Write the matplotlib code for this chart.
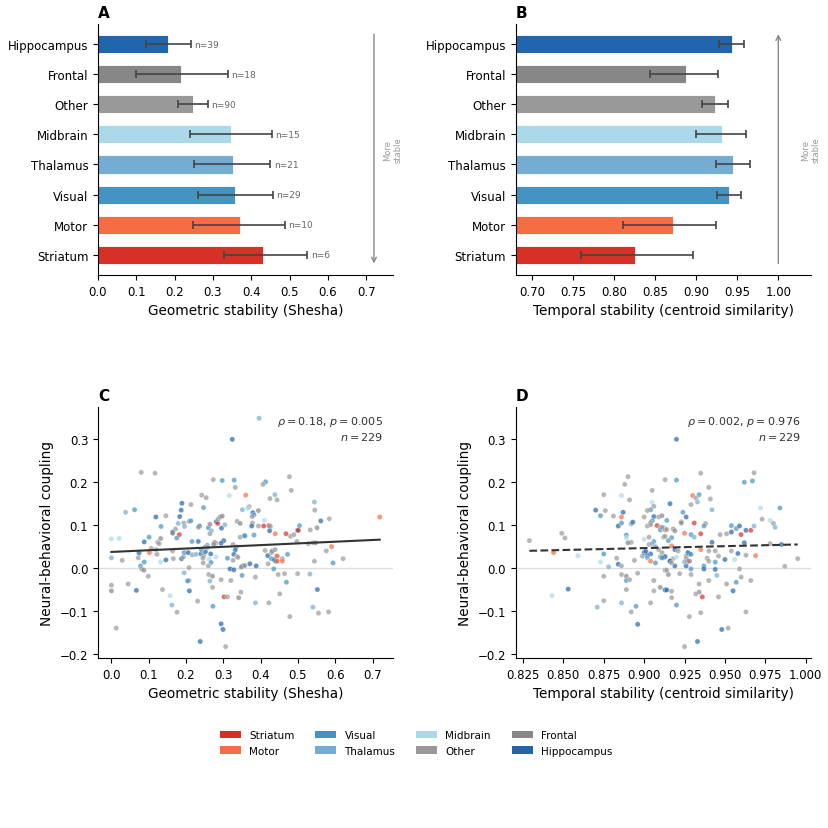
import numpy as np
import matplotlib
matplotlib.use("Agg")
import matplotlib.pyplot as plt
from matplotlib.patches import Patch

plt.rcParams["font.family"] = ["DejaVu Sans"]
plt.rcParams["font.size"] = 8.5

# regions, bottom to top of the bar panels
regions = ["Striatum", "Motor", "Visual", "Thalamus", "Midbrain", "Other", "Frontal", "Hippocampus"]
region_colors = {
    "Striatum": "#d73027",
    "Motor": "#f46d43",
    "Visual": "#4393c3",
    "Thalamus": "#74add1",
    "Midbrain": "#abd9e9",
    "Other": "#999999",
    "Frontal": "#878787",
    "Hippocampus": "#2166ac",
}
n_units = [6, 10, 29, 21, 15, 90, 18, 39]

shesha_mean = [0.430, 0.370, 0.357, 0.352, 0.347, 0.248, 0.217, 0.183]
shesha_lo = [0.330, 0.249, 0.261, 0.250, 0.239, 0.210, 0.100, 0.124]
shesha_hi = [0.546, 0.488, 0.457, 0.450, 0.454, 0.287, 0.339, 0.243]

temporal_mean = [0.825, 0.872, 0.940, 0.945, 0.931, 0.923, 0.888, 0.943]
temporal_lo = [0.759, 0.810, 0.925, 0.924, 0.900, 0.907, 0.843, 0.928]
temporal_hi = [0.896, 0.924, 0.954, 0.966, 0.961, 0.939, 0.926, 0.958]

# point codes for the scatter panels
code_region = {"R": "Striatum", "O": "Motor", "M": "Visual", "L": "Thalamus",
               "P": "Midbrain", "G": "Other", "F": "Frontal", "B": "Hippocampus"}

# panel C: geometric stability vs coupling
c_x = [0.324, 0.080, 0.117, 0.273, 0.297, 0.329, 0.332, 0.316, 0.360, 0.242,
       0.254, 0.189, 0.213, 0.187, 0.247, 0.351, 0.038, 0.062, 0.119, 0.146,
       0.183, 0.133, 0.179, 0.194, 0.196, 0.208, 0.213, 0.172, 0.164, 0.182,
       0.175, 0.164, 0.236, 0.233, 0.260, 0.264, 0.281, 0.285, 0.286, 0.291,
       0.297, 0.295, 0.304, 0.268, 0.264, 0.337, 0.345, 0.345, 0.356, 0.335,
       0.332, 0.328, 0.337, 0.326, 0.301, 0.294, 0.280, 0.276, 0.274, 0.257,
       0.251, 0.101, 0.088, 0.124, 0.132, 0.128, 0.000, 0.021, 0.074, 0.102,
       0.122, 0.120, 0.107, 0.000, 0.029, 0.072, 0.088, 0.078, 0.081, 0.087,
       0.099, 0.132, 0.146, 0.166, 0.164, 0.188, 0.193, 0.195, 0.206, 0.216,
       0.217, 0.227, 0.233, 0.240, 0.247, 0.252, 0.258, 0.266, 0.241, 0.245,
       0.261, 0.267, 0.280, 0.246, 0.260, 0.311, 0.326, 0.339, 0.350, 0.354,
       0.348, 0.318, 0.328, 0.208, 0.195, 0.208, 0.204, 0.209, 0.264, 0.271,
       0.261, 0.271, 0.294, 0.320, 0.350, 0.000, 0.000, 0.045, 0.067, 0.137,
       0.157, 0.162, 0.176, 0.231, 0.272, 0.302, 0.311, 0.341, 0.347, 0.294,
       0.299, 0.238, 0.306, 0.013,
       0.396, 0.477, 0.482, 0.413, 0.406, 0.438, 0.425, 0.444, 0.369, 0.365,
       0.394, 0.379, 0.382, 0.377, 0.544, 0.545, 0.584, 0.561, 0.378, 0.376,
       0.394, 0.410, 0.408, 0.422, 0.426, 0.424, 0.439, 0.468, 0.480, 0.489,
       0.499, 0.501, 0.504, 0.533, 0.551, 0.358, 0.382, 0.497, 0.528, 0.540,
       0.547, 0.590, 0.576, 0.594, 0.621, 0.544, 0.412, 0.419, 0.429, 0.431,
       0.439, 0.445, 0.458, 0.472, 0.429, 0.437, 0.441, 0.443, 0.445, 0.458,
       0.420, 0.371, 0.388, 0.358, 0.435, 0.386, 0.447, 0.464, 0.499, 0.469,
       0.532, 0.552, 0.451, 0.386, 0.422, 0.540, 0.555, 0.582, 0.478, 0.719]
c_y = [0.300, 0.223, 0.221, 0.206, 0.204, 0.205, 0.188, 0.169, 0.170, 0.170,
       0.164, 0.151, 0.148, 0.135, 0.141, 0.136, 0.130, 0.136, 0.119, 0.122,
       0.120, 0.097, 0.104, 0.105, 0.097, 0.109, 0.110, 0.091, 0.084, 0.078,
       0.070, 0.081, 0.098, 0.095, 0.094, 0.102, 0.108, 0.104, 0.114, 0.119,
       0.121, 0.093, 0.101, 0.087, 0.080, 0.109, 0.104, 0.072, 0.076, 0.049,
       0.042, 0.032, 0.027, 0.055, 0.064, 0.058, 0.058, 0.060, 0.055, 0.053,
       0.049, 0.072, 0.061, 0.060, 0.069, 0.057, 0.068, 0.069, 0.035, 0.036,
       0.032, 0.043, 0.046, 0.024, 0.018, 0.024, 0.014, 0.005, -0.002, -0.005,
       -0.019, 0.014, 0.019, 0.022, 0.040, 0.022, 0.026, 0.036, 0.036, 0.062,
       0.031, 0.032, 0.062, 0.033, 0.029, 0.038, 0.048, 0.033, 0.043, 0.023,
       0.021, 0.013, 0.026, 0.012, 0.005, 0.023, 0.018, 0.025, 0.004, 0.005,
       0.002, -0.002, -0.004, 0.001, -0.011, -0.029, -0.030, -0.053, -0.030, -0.045,
       -0.015, -0.019, -0.027, -0.029, -0.017, -0.040, -0.053, -0.037, -0.052, -0.050,
       -0.064, -0.086, -0.103, -0.077, -0.089, -0.067, -0.067, -0.069, -0.056, -0.130,
       -0.143, -0.171, -0.183, -0.140,
       0.349, 0.213, 0.181, 0.201, 0.195, 0.171, 0.162, 0.159, 0.143, 0.139,
       0.134, 0.129, 0.124, 0.120, 0.154, 0.135, 0.115, 0.110, 0.105, 0.098,
       0.098, 0.111, 0.098, 0.099, 0.097, 0.087, 0.080, 0.080, 0.074, 0.078,
       0.088, 0.088, 0.099, 0.089, 0.094, 0.075, 0.077, 0.062, 0.057, 0.059,
       0.059, 0.050, 0.040, 0.012, 0.022, 0.016, 0.041, 0.029, 0.036, 0.040,
       0.043, 0.028, 0.022, 0.032, 0.022, 0.019, 0.016, 0.028, 0.016, 0.016,
       0.010, 0.010, 0.005, 0.006, -0.002, -0.021, -0.015, -0.013, -0.013, -0.033,
       -0.014, -0.050, -0.060, -0.081, -0.081, -0.091, -0.105, -0.102, -0.113, 0.119]
c_codes = ("BGGGMMGPOG" "GBGBMLLMBG" "BMLGLGMGBR" "MFBGMFBRGG" "FBLLGGFGML"
           "BBGGBBGGFM" "GMBGFGPPBO" "GGGLGGMMGF" "GPBGGBGMBM" "GLBBGBGBMG"
           "PMPGGMGGBB" "GBBGLGMBLG" "GFGGMGFGBG" "PLGGMRGFGB" "BBGG"
           "LGGMGLGGGP" "FBMGLGGBGB" "GPRRGBORGG" "BRMGFMMGGG" "FOGMGGGBGF"
           "GGGMMBBOOO" "GBBGMGGGGM" "LBGLGLGGGO")

# panel D: temporal stability vs coupling
d_x = [0.829, 0.849, 0.851, 0.844, 0.859, 0.853, 0.843, 0.870, 0.873, 0.876,
       0.875, 0.875, 0.873, 0.878, 0.875, 0.875, 0.871, 0.881, 0.886, 0.887,
       0.886, 0.888, 0.890, 0.891, 0.884, 0.886, 0.892, 0.893, 0.889, 0.889,
       0.892, 0.890, 0.883, 0.884, 0.886, 0.894, 0.886, 0.889, 0.889, 0.891,
       0.896, 0.889, 0.886, 0.892, 0.895, 0.896, 0.905, 0.905, 0.906, 0.904,
       0.902, 0.900, 0.906, 0.905, 0.909, 0.911, 0.904, 0.902, 0.904, 0.908,
       0.910, 0.910, 0.912, 0.913, 0.900, 0.903, 0.906, 0.912, 0.903, 0.905,
       0.907, 0.909, 0.900, 0.901, 0.904, 0.902, 0.899, 0.902, 0.911, 0.910,
       0.912, 0.904, 0.907, 0.906, 0.906, 0.910, 0.904, 0.913, 0.913, 0.913,
       0.920, 0.920, 0.935, 0.940, 0.930, 0.934, 0.932, 0.933, 0.929, 0.941,
       0.942, 0.916, 0.924, 0.926, 0.923, 0.923, 0.914, 0.911, 0.914, 0.918,
       0.919, 0.931, 0.938, 0.937, 0.925, 0.935, 0.929, 0.931, 0.917, 0.913,
       0.915, 0.942, 0.935, 0.940, 0.944, 0.947, 0.951, 0.954, 0.957, 0.959,
       0.954, 0.960, 0.963, 0.966, 0.968, 0.962, 0.967, 0.968, 0.972, 0.973,
       0.978, 0.980, 0.981, 0.984, 0.985, 0.978, 0.962, 0.958, 0.963, 0.969,
       0.954, 0.956, 0.950, 0.946, 0.944, 0.939, 0.940, 0.937, 0.937, 0.928,
       0.927, 0.926, 0.929, 0.926, 0.928, 0.926, 0.927, 0.925, 0.919, 0.919,
       0.921, 0.918, 0.916, 0.916, 0.917, 0.920, 0.917, 0.913, 0.911, 0.929,
       0.944, 0.959, 0.914, 0.915, 0.922, 0.929, 0.945, 0.960, 0.940, 0.951,
       0.957, 0.966, 0.914, 0.917, 0.917, 0.934, 0.934, 0.932, 0.936, 0.946,
       0.955, 0.920, 0.963, 0.935, 0.928, 0.948, 0.952, 0.933, 0.925, 0.987, 0.995]
d_y = [0.064, 0.081, 0.070, 0.036, 0.029, -0.049, -0.064, 0.135, 0.122, 0.134,
       0.171, 0.033, 0.014, 0.003, -0.019, -0.076, -0.091, 0.121, 0.119, 0.130,
       0.169, 0.195, 0.213, 0.159, 0.098, 0.105, 0.103, 0.107, 0.077, 0.070,
       0.060, 0.059, 0.023, 0.009, 0.005, 0.018, -0.015, -0.019, -0.029, -0.027,
       -0.012, -0.050, -0.081, -0.102, -0.089, -0.131, 0.181, 0.153, 0.144, 0.136,
       0.134, 0.119, 0.120, 0.110, 0.119, 0.122, 0.106, 0.098, 0.101, 0.099,
       0.095, 0.089, 0.094, 0.089, 0.067, 0.072, 0.062, 0.072, 0.055, 0.057,
       0.050, 0.043, 0.036, 0.039, 0.033, 0.029, 0.028, 0.024, 0.036, 0.026,
       0.024, 0.016, 0.012, -0.029, -0.053, -0.045, -0.081, -0.051, -0.005, 0.206,
       0.300, 0.205, 0.221, 0.188, 0.169, 0.171, 0.163, 0.154, 0.148, 0.161,
       0.136, 0.150, 0.130, 0.119, 0.108, 0.105, 0.111, 0.095, 0.090, 0.091,
       0.087, 0.105, 0.104, 0.098, 0.081, 0.080, 0.078, 0.072, 0.071, 0.074,
       0.064, 0.060, 0.043, 0.040, 0.040, 0.078, 0.080, 0.084, 0.092, 0.098,
       0.099, 0.078, 0.088, 0.088, 0.098, 0.200, 0.203, 0.222, 0.140, 0.114,
       0.111, 0.104, 0.095, 0.140, 0.055, 0.057, 0.059, 0.034, 0.030, 0.029,
       0.040, 0.020, 0.020, 0.028, 0.014, 0.023, 0.016, 0.005, -0.002, 0.033,
       0.036, 0.028, 0.032, 0.022, 0.016, 0.005, 0.016, 0.014, 0.005, 0.043,
       0.040, 0.022, 0.017, 0.016, 0.012, 0.026, 0.052, 0.027, 0.024, -0.002,
       -0.003, -0.002, -0.005, -0.015, -0.013, -0.015, -0.017, -0.021, -0.029, -0.037,
       -0.033, -0.029, -0.051, -0.054, -0.069, -0.037, -0.056, -0.060, -0.067, -0.067,
       -0.053, -0.086, -0.102, -0.104, -0.113, -0.143, -0.140, -0.171, -0.183, 0.004, 0.022]
d_codes = ("GGGOPBPBMG" "GMPLGGLGOB" "PGGGBMLBMP" "GFGBGGGFMG" "GGLGMBGPGM"
           "GGBMGFGGGR" "GMGFPGMGGL" "GGBBBBGLGG" "MOMGGFGBGG" "BMGGOMGLGG"
           "LBMBGFMGGG" "FRGMORMLMG" "MBOGGGGBMB" "MRBRLMMGPG" "PGLMBGBBGO"
           "GPBGMGGMBB" "BGMGBBOLBB" "GGFBGPOBMM" "BGGFGGLGGG" "MGBGGGFGRG"
           "BMGGGBGBGGG")

stats_c = r"$\rho = 0.18$, $p = 0.005$" + "\n" + r"$n = 229$"
stats_d = r"$\rho = 0.002$, $p = 0.976$" + "\n" + r"$n = 229$"

fig = plt.figure(figsize=(8.29, 8.29), dpi=100)
axA = fig.add_axes([0.1182, 0.667, 0.356, 0.303])
axB = fig.add_axes([0.6224, 0.667, 0.356, 0.303])
axC = fig.add_axes([0.1182, 0.205, 0.356, 0.303])
axD = fig.add_axes([0.6224, 0.205, 0.356, 0.303], sharey=axC)

for ax in (axA, axB, axC, axD):
    ax.spines["top"].set_visible(False)
    ax.spines["right"].set_visible(False)
    ax.tick_params(labelsize=8.5)

ypos = np.arange(len(regions))
bar_cols = [region_colors[r] for r in regions]


def bar_panel(ax, mean, lo, hi, label, with_n):
    mean = np.array(mean)
    err = [mean - np.array(lo), np.array(hi) - mean]
    ax.barh(ypos, mean, height=0.6, color=bar_cols, edgecolor="white", linewidth=0.6)
    ax.errorbar(mean, ypos, xerr=err, fmt="none", ecolor="#444444",
                elinewidth=1.2, capsize=3, capthick=1.2)
    ax.set_yticks(ypos)
    ax.set_yticklabels(regions)
    ax.set_xlabel(label, fontsize=9.8)
    if with_n:
        for y, h, n in zip(ypos, hi, n_units):
            ax.text(h + 0.009, y, f"n={n}", va="center", fontsize=6.5, color="#666666")


bar_panel(axA, shesha_mean, shesha_lo, shesha_hi, "Geometric stability (Shesha)", True)
axA.set_xlim(0, 0.77)
axA.annotate("", xy=(0.72, 0.035), xytext=(0.72, 0.97),
             xycoords=axA.get_xaxis_transform(),
             arrowprops=dict(arrowstyle="->", color="#888888", lw=1))

bar_panel(axB, temporal_mean, temporal_lo, temporal_hi,
          "Temporal stability (centroid similarity)", False)
axB.set_xlim(0.68, 1.04)
axB.set_xticks(np.arange(0.70, 1.001, 0.05))
axB.annotate("", xy=(1.0, 0.97), xytext=(1.0, 0.035),
             xycoords=axB.get_xaxis_transform(),
             arrowprops=dict(arrowstyle="->", color="#888888", lw=1))

for ax in (axA, axB):
    ax.text(1.0, 0.5, "More\nstable", transform=ax.transAxes, rotation=90,
            ha="center", va="center", fontsize=6, color="#999999")


def scatter_panel(ax, x, y, codes, stats, ls, label):
    x = np.array(x)
    y = np.array(y)
    cols = [region_colors[code_region[c]] for c in codes]
    ax.axhline(0, color="#dddddd", lw=1, zorder=0)
    ax.scatter(x, y, s=14, c=cols, alpha=0.7, edgecolors="white", linewidths=0.3, zorder=2)
    slope, icpt = np.polyfit(x, y, 1)
    xx = np.array([x.min(), x.max()])
    ax.plot(xx, icpt + slope * xx, ls, color="#333333", lw=1.5, zorder=3)
    ax.text(0.965, 0.97, stats, transform=ax.transAxes, ha="right", va="top",
            fontsize=8, color="#333333", zorder=4)
    ax.set_xlabel(label, fontsize=9.8)
    ax.set_ylabel("Neural-behavioral coupling", fontsize=9.8)


scatter_panel(axC, c_x, c_y, c_codes, stats_c, "-", "Geometric stability (Shesha)")
scatter_panel(axD, d_x, d_y, d_codes, stats_d, "--", "Temporal stability (centroid similarity)")
axD.tick_params(labelleft=True)

for ax, letter in zip((axA, axB, axC, axD), "ABCD"):
    ax.set_title(letter, loc="left", fontweight="bold", fontsize=11, pad=5)

handles = [Patch(facecolor=region_colors[r], label=r) for r in regions]
fig.legend(handles=handles, loc="center", bbox_to_anchor=(0.502, 0.1025), ncol=4,
           frameon=False, fontsize=7.5)

fig.savefig("out.png", dpi=100)
